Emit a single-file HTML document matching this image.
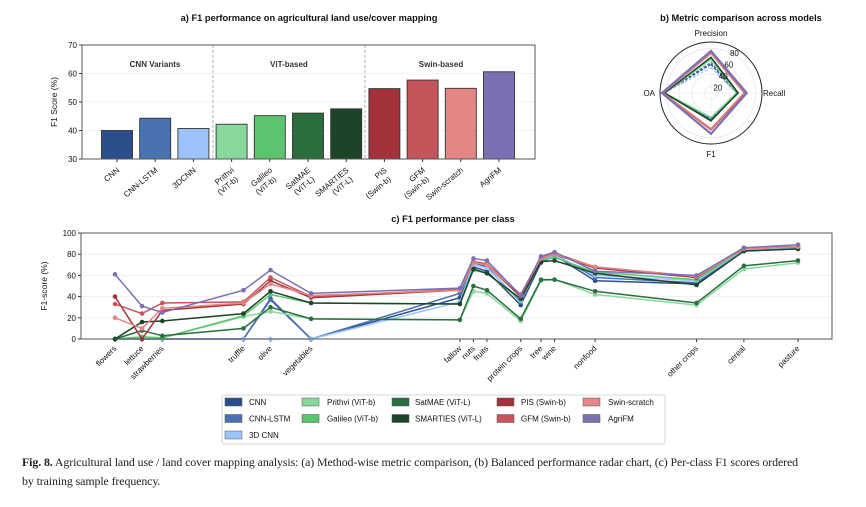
<!DOCTYPE html>
<html><head><meta charset="utf-8"><style>
body{margin:0;background:#fff;width:866px;height:507px;overflow:hidden;font-family:"Liberation Sans",sans-serif}
svg{position:absolute;left:0;top:0}
.cap{position:absolute;left:22px;top:453px;width:830px;font-family:"Liberation Serif",serif;font-size:11.9px;line-height:19px;color:#222;letter-spacing:-0.1px}
</style></head><body>
<svg id="s" width="866" height="507"></svg>
<div class="cap"><b>Fig. 8.</b> Agricultural land use / land cover mapping analysis: (a) Method-wise metric comparison, (b) Balanced performance radar chart, (c) Per-class F1 scores ordered<br>by training sample frequency.</div>
<script>
const models=["CNN","CNN-LSTM","3DCNN","Prithvi\n(ViT-b)","Galileo\n(ViT-b)","SatMAE\n(ViT-L)","SMARTIES\n(ViT-L)","PIS\n(Swin-b)","GFM\n(Swin-b)","Swin-scratch","AgriFM"];
const legendNames=["CNN","CNN-LSTM","3D CNN","Prithvi (ViT-b)","Galileo (ViT-b)","SatMAE (ViT-L)","SMARTIES (ViT-L)","PIS (Swin-b)","GFM (Swin-b)","Swin-scratch","AgriFM"];
const colors=["#2b4f8c","#4a72b0","#9cc3ff","#88d89b","#5cc46f","#2a6e3f","#1b4428","#a3323a","#c5545b","#e58686","#7d70b2"];
const f1Scores=[40.0,44.3,40.7,42.2,45.2,46.1,47.6,54.7,57.7,54.8,60.6];
const barTicks=[30,40,50,60,70];
const radarAxes=["Precision","Recall","F1","OA"];
const radarTicks=[20,40,60,80];
const radarVals=[[55,50,50,84],[58,52,52,84],[50,50,50,83],[63,50,48,82],[65,52,52,83],[66,53,52,83],[66,52,54,83],[72,62,66,85],[73,64,68,86],[72,62,66,85],[76,66,74,87]];
const classes=["flowers","lettuce","strawberries","truffle","olive","vegetables","fallow","nuts","fruits","protein crops","tree","wine","nonfood","other crops","cereal","pasture"];
const classRank=[0,4,7,19,23,29,51,53,55,60,63,65,71,86,93,101];
const classTicks=[0,20,40,60,80,100];
const sCNN=[0,0,0,0,38,0,39,68,64,32,72,79,55,52,83,85];
const sLSTM=[0,0,0,0,37,0,43,72,68,35,75,80,58,53,83,86];
const s3D=[0,0,0,0,0,0,35,70,67,36,74,79,60,55,84,86];
const sPrithvi=[0,2,1,21,26,19,18,45,43,17,55,56,42,32,66,72];
const sGalileo=[0,2,1,22,42,34,33,65,62,37,74,77,63,56,85,87];
const sSatMAE=[0,8,3,10,30,19,18,50,46,19,56,56,45,34,69,74];
const sSmarties=[0,16,17,24,45,34,33,66,62,38,73,74,62,51,83,85];
const sPIS=[40,0,27,33,55,39,46,72,70,40,76,80,67,58,86,87];
const sGFM=[33,24,34,35,58,40,47,73,71,42,77,81,68,59,86,87];
const sSwin=[20,10,29,34,52,41,46,72,70,42,76,80,68,59,85,87];
const sAgri=[61,31,25,46,65,43,48,76,74,41,78,82,64,60,86,89];
const series=[sCNN,sLSTM,s3D,sPrithvi,sGalileo,sSatMAE,sSmarties,sPIS,sGFM,sSwin,sAgri];

const S=document.getElementById('s');const NS="http://www.w3.org/2000/svg";
function el(t,a,txt){const e=document.createElementNS(NS,t);for(const k in a)e.setAttribute(k,a[k]);if(txt!==undefined)e.textContent=txt;S.appendChild(e);return e;}
function txt(x,y,s,o){o=o||{};const e=el('text',Object.assign({x:x,y:y,'font-size':o.fs||8,'text-anchor':o.a||'middle',fill:'#111','font-weight':o.w||'normal'},o.tr?{transform:o.tr}:{}),s);return e;}

// ---------- Chart a ----------
const aL=82,aR=535,aT=45,aB=159;
const ay=v=>aB-(v-30)/40*(aB-aT);
const ax=i=>117+i*38.2;
let t=txt(309,21,"a) F1 performance on agricultural land use/cover mapping",{fs:9.3,w:'bold'});

barTicks.forEach(v=>{if(v>30&&v<70){const g=el('line',{x1:aL,x2:aR,y1:ay(v),y2:ay(v),stroke:'#eee','stroke-width':0.8});}
 const l=txt(aL-5,ay(v)+3,v,{a:'end'});
 el('line',{x1:aL-3,x2:aL,y1:ay(v),y2:ay(v),stroke:'#333'});});
[213,365].forEach(x=>{const d=el('line',{x1:x,x2:x,y1:aT,y2:aB,stroke:'#999','stroke-dasharray':'3,2','stroke-width':0.8});});
[["CNN Variants",155],["ViT-based",289],["Swin-based",441]].forEach(g=>{const e=txt(g[1],67,g[0],{fs:8,w:'bold'});e.setAttribute('fill','#333');});
f1Scores.forEach((v,i)=>{const r=el('rect',{x:ax(i)-15.5,y:ay(v),width:31,height:aB-ay(v),fill:colors[i],stroke:'#333','stroke-width':0.9});
 
 el('line',{x1:ax(i),x2:ax(i),y1:aB,y2:aB+3,stroke:'#333'});
 const lines=models[i].split('\n');
 lines.forEach((ln,k)=>{const x=ax(i)+3+k*4,y=aB+12+k*9;const e=txt(x,y,ln,{a:'end',tr:`rotate(-40 ${x} ${y})`});});});
let fr=el('rect',{x:aL,y:aT,width:aR-aL,height:aB-aT,fill:'none',stroke:'#555','stroke-width':1});
t=txt(57,102,"F1 Score (%)",{fs:8.5,tr:'rotate(-90 57 102)'});

// ---------- Chart b radar ----------
const cx=711,cy=93,R=51;
const rr=v=>(v-10)/80*R;
t=txt(741,21,"b) Metric comparison across models",{fs:9.3,w:'bold'});
radarTicks.forEach(v=>{const c=el('circle',{cx:cx,cy:cy,r:rr(v),fill:'none',stroke:'#e4e4e4','stroke-width':0.7});});
const ang=k=>-Math.PI/2+k*Math.PI/2;
radarAxes.forEach((a,k)=>{el('line',{x1:cx,y1:cy,x2:cx+R*Math.cos(ang(k)),y2:cy+R*Math.sin(ang(k)),stroke:'#eee','stroke-width':0.7});});
for(let i=0;i<radarVals.length;i++){const pts=radarVals[i].map((v,k)=>(cx+rr(v)*Math.cos(ang(k))).toFixed(1)+','+(cy+rr(v)*Math.sin(ang(k))).toFixed(1)).join(' ');
 const p=el('polygon',{points:pts,fill:'none',stroke:colors[i],'stroke-width':i==10?2.2:1.3,'stroke-dasharray':i<3?'3,1.5':'none'});
 }
let oc=el('circle',{cx:cx,cy:cy,r:R,fill:'none',stroke:'#222','stroke-width':1});
radarTicks.forEach(v=>{const a=-Math.PI/2+0.45;const e=txt(cx+rr(v)*Math.cos(a)+4,cy+rr(v)*Math.sin(a)+3,v,{fs:8});});
[["Precision",cx,cy-R-6,'middle'],["Recall",cx+R+1,cy+3,'start'],["F1",cx,cy+R+13,'middle'],["OA",cx-R-5,cy+3,'end']].forEach(l=>{const e=txt(l[1],l[2],l[0],{fs:8,a:l[3]});});

// ---------- Chart c ----------
const cL=81,cR=832,cT=233,cB=339;
const cyS=v=>cB-v/100*(cB-cT);
const cxS=r=>115+r/101*(798-115);
t=txt(453,222,"c) F1 performance per class",{fs:9.3,w:'bold'});
classTicks.forEach(v=>{if(v>0&&v<100){const g=el('line',{x1:cL,x2:cR,y1:cyS(v),y2:cyS(v),stroke:'#eee','stroke-width':0.8});}
 const l=txt(cL-5,cyS(v)+3,v,{a:'end'});
 el('line',{x1:cL-3,x2:cL,y1:cyS(v),y2:cyS(v),stroke:'#333'});});
classes.forEach((c,i)=>{const x=cxS(classRank[i]);el('line',{x1:x,x2:x,y1:cB,y2:cB+3,stroke:'#333'});
 const e=txt(x+2,cB+10,c,{a:'end',tr:`rotate(-45 ${x+2} ${cB+10})`});});
series.forEach((s,i)=>{const pts=s.map((v,k)=>cxS(classRank[k]).toFixed(1)+','+cyS(v).toFixed(1)).join(' ');
 const pl=el('polyline',{points:pts,fill:'none',stroke:colors[i],'stroke-width':1.5});
 s.forEach((v,k)=>{const m=el('circle',{cx:cxS(classRank[k]),cy:cyS(v),r:2.3,fill:colors[i]});});});
fr=el('rect',{x:cL,y:cT,width:cR-cL,height:cB-cT,fill:'none',stroke:'#555','stroke-width':1});
t=txt(47,286,"F1-score (%)",{fs:8.5,tr:'rotate(-90 47 286)'});

// ---------- Legend ----------
let lb=el('rect',{x:222,y:395,width:443,height:49,fill:'#fff',stroke:'#ccc','stroke-width':0.8,rx:2});
const colX=[[225,249],[302,327],[392,415],[497,521],[583,608]];
const pos=[[0,0],[0,1],[0,2],[1,0],[1,1],[2,0],[2,1],[3,0],[3,1],[4,0],[4,1]];
legendNames.forEach((n,i)=>{const c=colX[pos[i][0]],y=402+pos[i][1]*16.5;
 const sw=el('rect',{x:c[0],y:y-4,width:17,height:8,fill:colors[i],stroke:'#555','stroke-width':0.5});
 const e=txt(c[1],y+3,n,{a:'start',fs:8});});
</script>
</body></html>
